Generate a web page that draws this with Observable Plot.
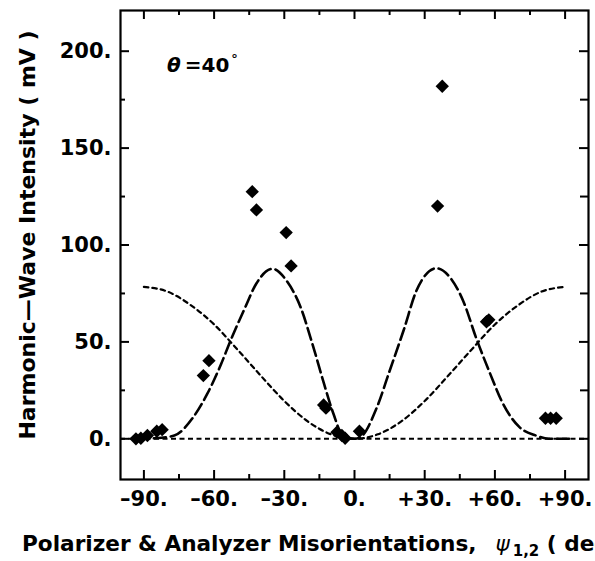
<!DOCTYPE html>
<html>
<head>
<meta charset="utf-8">
<script src="https://cdn.jsdelivr.net/npm/d3@7"></script>
<script src="https://cdn.jsdelivr.net/npm/@observablehq/plot@0.6"></script>
<style>
  html, body { margin: 0; padding: 0; background: #fff; }
</style>
</head>
<body>
<div id="chart"></div>
<script>
// measured points (misorientation ψ in deg, intensity in mV)
const pointX = [-93.4, -91.3, -88.5, -84.5, -82.2, -64.6, -62.2, -43.7, -41.9, -29.2, -27.1, -13.2, -12.2, -7.5, -5.4, -4.0, 2.1, 35.5, 37.5, 56.4, 57.4, 81.6, 83.8, 86.2];
const pointY = [0.0, 0.3, 1.7, 3.9, 4.7, 32.6, 40.3, 127.5, 118.1, 106.4, 89.2, 17.5, 15.8, 3.4, 1.7, 0.3, 3.9, 120.1, 181.9, 60.4, 61.4, 10.6, 10.6, 10.6];

// long-dashed theoretical curve
const longX = [-93, -85, -77, -69, -63, -57, -53, -47, -42, -35, -29, -23, -18, -13, -9, -5, 0, 2.5, 9.5, 15, 21, 26.5, 35, 41, 46.5, 52, 58, 63.5, 70.5, 77.5, 83, 92.5];
const longY = [0, 0.3, 1.7, 11, 23, 38.6, 50.6, 67, 80, 87.7, 81.5, 67.8, 49, 28.3, 12.9, 1.7, 0, 0.8, 16, 35, 56, 76.5, 88, 83, 71, 52, 33.5, 18, 6, 1.7, 0, 0];

// short-dashed theoretical curve
const shortX = [-90, -80, -70, -60, -50, -40, -30, -20, -10, 0, 10, 20, 30, 40, 50, 60, 70, 80, 90];
const shortY = [78.4, 76, 69, 59, 46, 32.5, 19.5, 9, 2.3, 0, 2.3, 9, 19.5, 32.5, 46, 59, 69, 76, 78.4];

// axis ticks
const xTicks = [-90, -60, -30, 0, 30, 60, 90];
const xTickLabels = ["–90.", "–60.", "–30.", "0.", "+30.", "+60.", "+90."];
const xMinor = [-75, -45, -15, 15, 45, 75];
const yTicks = [0, 50, 100, 150, 200];
const yTickLabels = ["0.", "50.", "100.", "150.", "200."];
const yMinor = [25, 75, 125, 175];

const points = pointX.map((x, i) => ({x, y: pointY[i]}));
const longCurve = longX.map((x, i) => ({x, y: longY[i]}));
const shortCurve = shortX.map((x, i) => ({x, y: shortY[i]}));

const W = 595, H = 561;
const mL = 120, mR = 7, mT = 10, mB = 82;
const innerW = W - mL - mR, innerH = H - mT - mB;

const svg = Plot.plot({
  width: W,
  height: H,
  marginLeft: mL,
  marginRight: mR,
  marginTop: mT,
  marginBottom: mB,
  style: {fontFamily: "'DejaVu Sans', sans-serif", fontSize: "21px", fontWeight: "bold", background: "#fff", color: "#000"},
  x: {domain: [-100, 100]},
  y: {domain: [-21, 221]},
  marks: [
    Plot.ruleY([0], {stroke: "#000", strokeWidth: 2, strokeDasharray: "5,3.5"}),
    Plot.line(shortCurve, {x: "x", y: "y", curve: "monotone-x", stroke: "#000", strokeWidth: 2.2, strokeDasharray: "4.5,4"}),
    Plot.line(longCurve, {x: "x", y: "y", curve: "monotone-x", stroke: "#000", strokeWidth: 2.6, strokeDasharray: "12,5"}),
    Plot.dot(points, {x: "x", y: "y", symbol: "diamond2", r: 6, fill: "#000", stroke: null}),
    // inward ticks
    Plot.tickX(xTicks, {x: d => d, insetTop: innerH - 9, stroke: "#000", strokeWidth: 2}),
    Plot.tickX(xTicks, {x: d => d, insetBottom: innerH - 9, stroke: "#000", strokeWidth: 2}),
    Plot.tickX(xMinor, {x: d => d, insetTop: innerH - 5, stroke: "#000", strokeWidth: 2}),
    Plot.tickX(xMinor, {x: d => d, insetBottom: innerH - 5, stroke: "#000", strokeWidth: 2}),
    Plot.tickY(yTicks, {y: d => d, insetRight: innerW - 9, stroke: "#000", strokeWidth: 2}),
    Plot.tickY(yTicks, {y: d => d, insetLeft: innerW - 9, stroke: "#000", strokeWidth: 2}),
    Plot.tickY(yMinor, {y: d => d, insetRight: innerW - 5, stroke: "#000", strokeWidth: 2}),
    Plot.tickY(yMinor, {y: d => d, insetLeft: innerW - 8, stroke: "#000", strokeWidth: 2}),
    Plot.axisX(xTicks, {tickSize: 0, tickPadding: 12, tickFormat: d => xTickLabels[xTicks.indexOf(d)], label: null, fontSize: 21, fontWeight: "bold"}),
    Plot.axisY(yTicks, {tickSize: 0, tickPadding: 9, tickFormat: d => yTickLabels[yTicks.indexOf(d)], label: null, fontSize: 21, fontWeight: "bold"}),
    Plot.frame({stroke: "#000", strokeWidth: 2.2})
  ]
});

const s = d3.select(svg);
s.style("overflow", "hidden");

// y-axis title
s.append("text")
  .attr("transform", "translate(35,235) rotate(-90)")
  .attr("text-anchor", "middle")
  .attr("font-family", "'DejaVu Sans', sans-serif")
  .attr("font-size", 22)
  .attr("font-weight", "bold")
  .attr("fill", "#000")
  .text("Harmonic—Wave Intensity ( mV )");

// x-axis title
const xt = s.append("text")
  .attr("x", 22)
  .attr("y", 551)
  .attr("text-anchor", "start")
  .attr("font-family", "'DejaVu Sans', sans-serif")
  .attr("font-size", 21.6)
  .attr("font-weight", "bold")
  .attr("fill", "#000");
xt.append("tspan").text("Polarizer & Analyzer Misorientations,");
xt.append("tspan").attr("dx", 19).attr("font-style", "italic").attr("font-weight", "normal").text("ψ");
xt.append("tspan").attr("dx", 3).attr("dy", 5).attr("font-size", 15).text("1,2");
xt.append("tspan").attr("dy", -5).text(" ( deg )");

// theta annotation
const th = s.append("text")
  .attr("x", 167)
  .attr("y", 72)
  .attr("text-anchor", "start")
  .attr("font-family", "'DejaVu Sans', sans-serif")
  .attr("font-size", 20)
  .attr("fill", "#000");
th.append("tspan").attr("font-style", "italic").text("θ");
th.append("tspan").attr("dx", 4).attr("font-weight", "bold").text("=40");
th.append("tspan").attr("dx", 2).attr("dy", -9).attr("font-size", 13).text("°");

document.getElementById("chart").appendChild(svg);
</script>
</body>
</html>
